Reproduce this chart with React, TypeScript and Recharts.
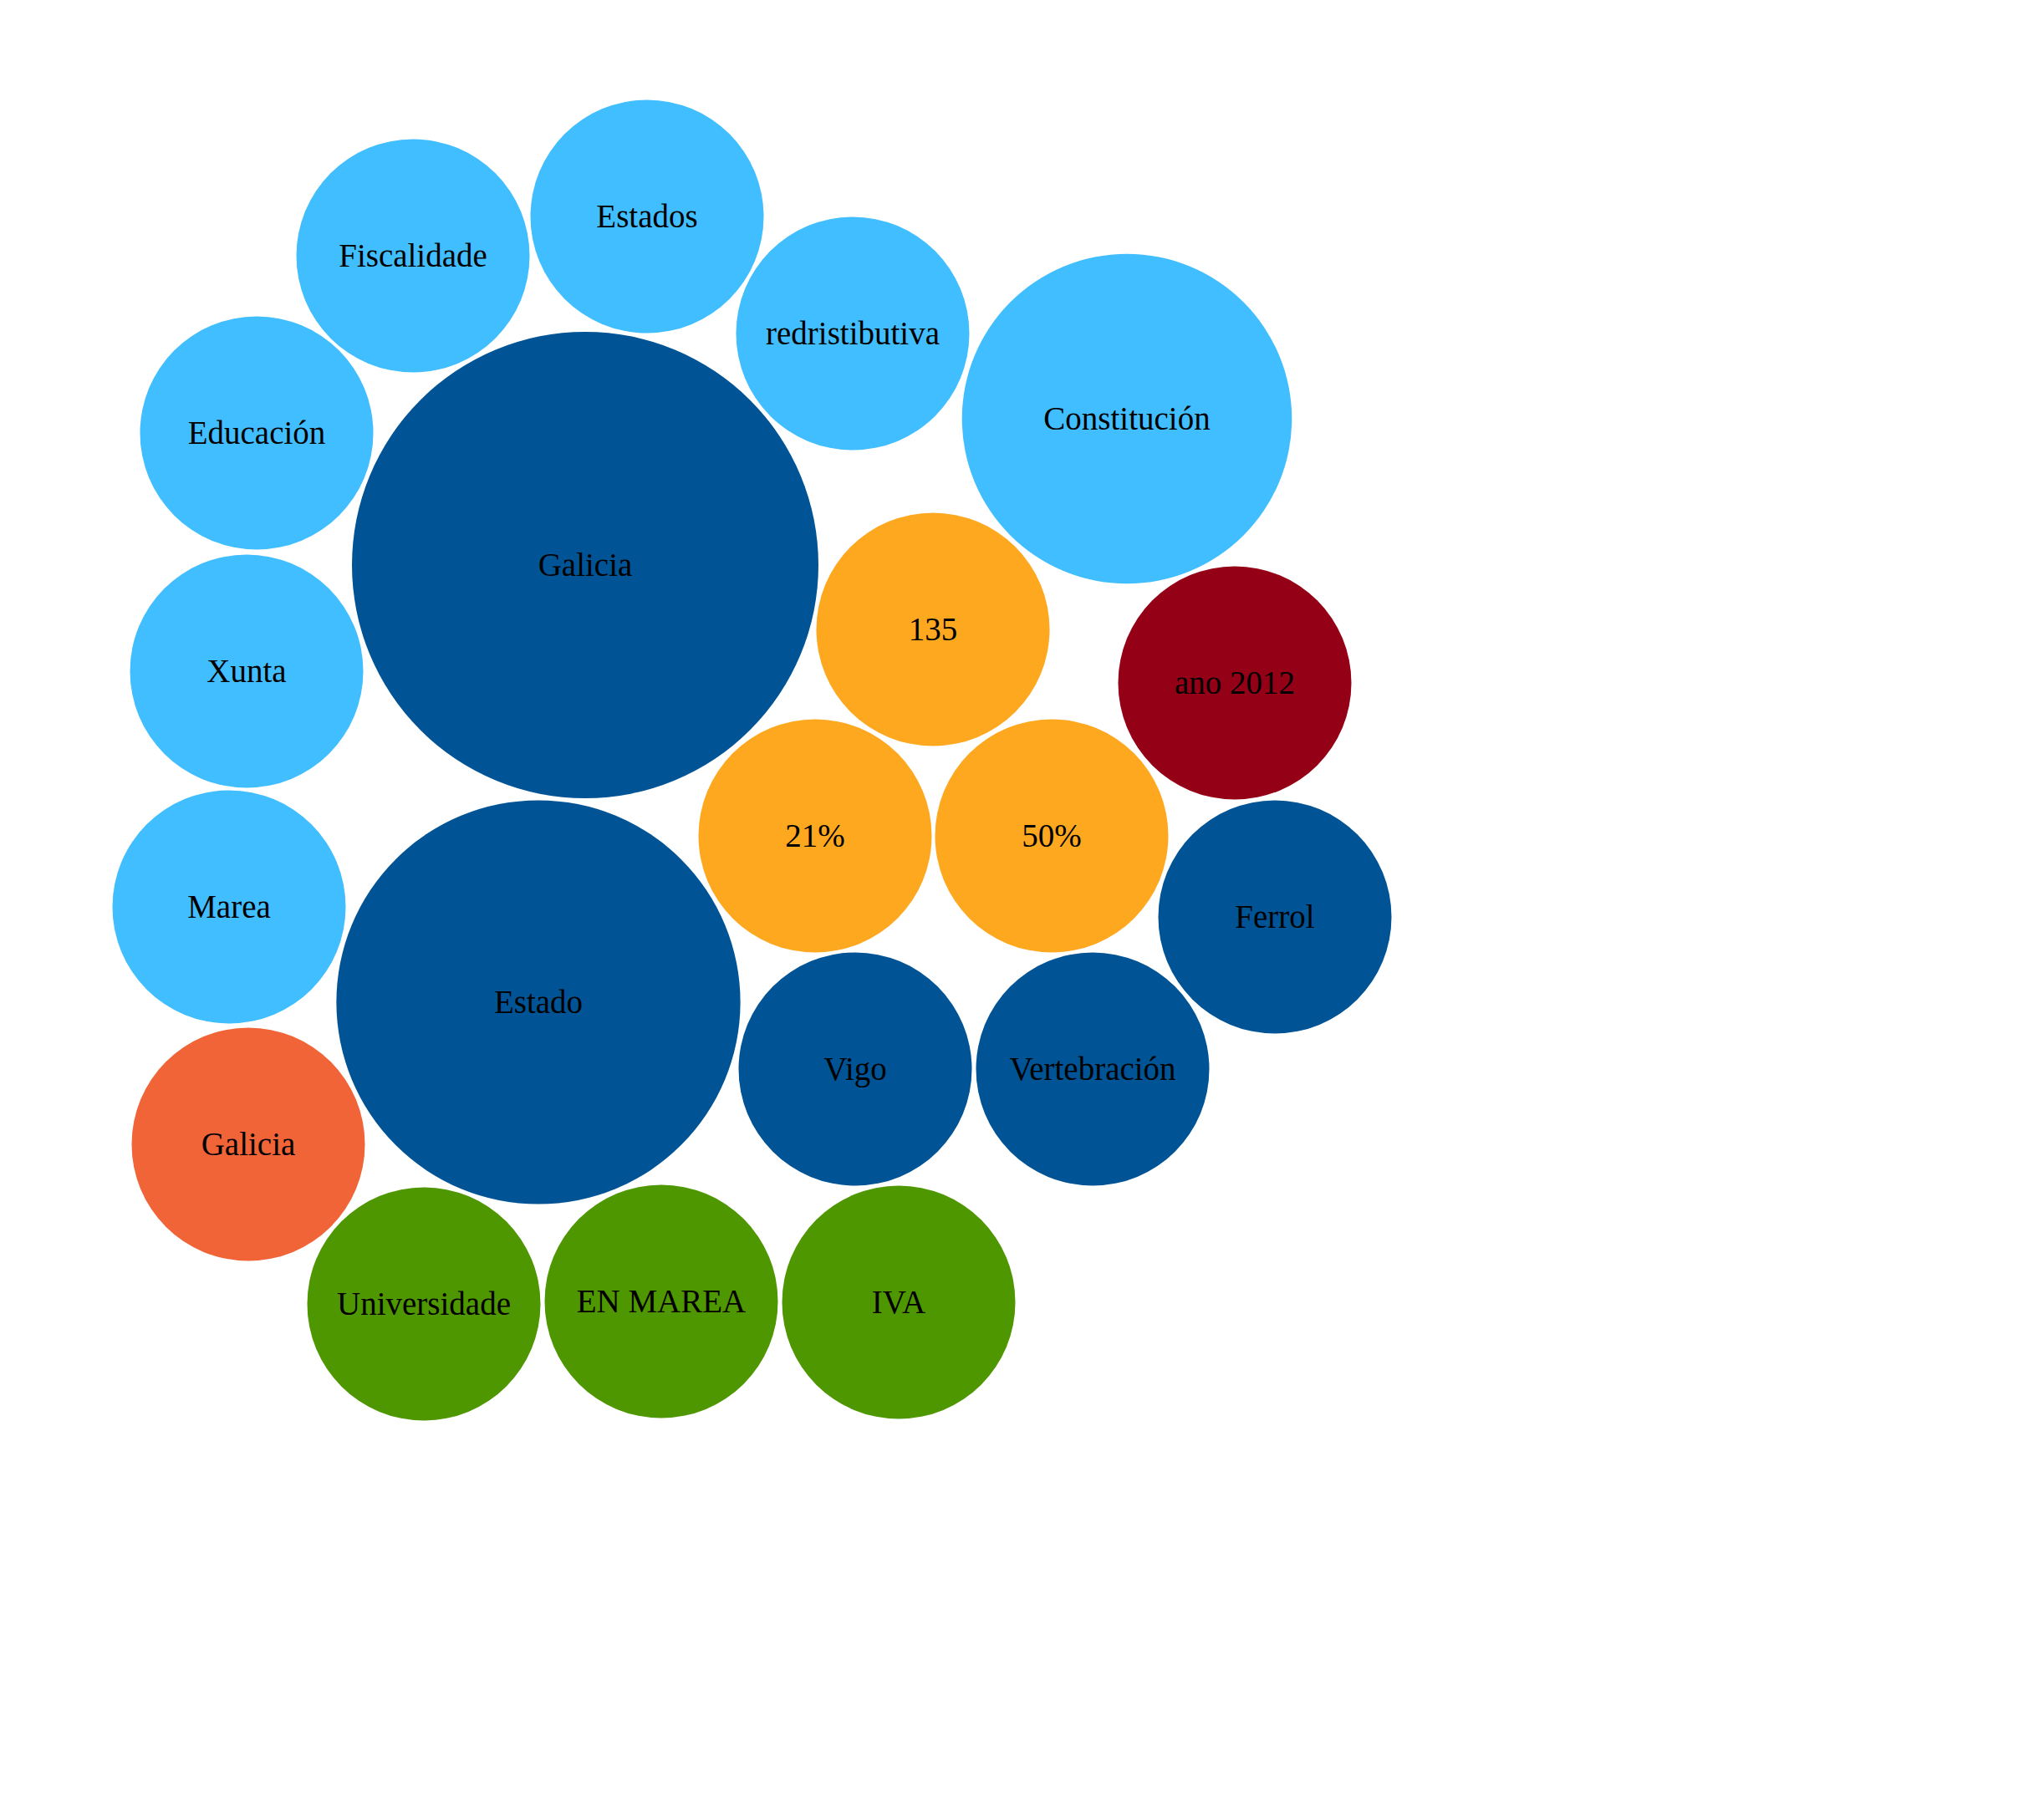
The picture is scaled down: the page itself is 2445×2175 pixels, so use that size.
import React from "react";
import { ScatterChart, Scatter, XAxis, YAxis, ZAxis, Cell } from "recharts";

// words and their weight (bubble area)
const words = [
  "Estados", "Fiscalidade", "redristibutiva", "Educación", "Constitución",
  "Galicia", "135", "ano 2012", "Xunta", "21%", "50%", "Ferrol", "Marea",
  "Estado", "Vigo", "Vertebración", "Galicia", "Universidade", "EN MAREA", "IVA",
];
const weights = [1, 1, 1, 1, 2, 4, 1, 1, 1, 1, 1, 1, 1, 3, 1, 1, 1, 1, 1, 1];
const groups = [
  "tema", "tema", "tema", "tema", "tema", "lugar", "cifra", "data", "tema", "cifra",
  "cifra", "lugar", "tema", "lugar", "lugar", "lugar", "persoa", "org", "org", "org",
];

// bubble centres as laid out in the original packing
const posX = [774, 494, 1020, 307, 1348, 700, 1116, 1477, 295, 975, 1258, 1525, 274, 644, 1023, 1307, 297, 507, 791, 1075];
const posY = [259, 306, 399, 518, 501, 676, 753, 817, 803, 1000, 1000, 1097, 1085, 1199, 1279, 1279, 1369, 1560, 1557, 1558];

const groupColors: Record<string, string> = {
  tema: "#40BEFF",
  lugar: "#005496",
  cifra: "#FEA820",
  data: "#940016",
  persoa: "#F06438",
  org: "#4E9700",
};

const data = words.map((w, i) => ({
  name: w,
  x: posX[i],
  y: posY[i],
  value: weights[i],
  group: groups[i],
}));

const W = 2445;
const H = 2175;
const maxR = 279;

const Bubble = (props: any) => {
  const { cx, cy, fill, payload } = props;
  const r = props.width ? props.width / 2 : Math.sqrt((props.size || 0) / Math.PI);
  return (
    <g>
      <circle cx={cx} cy={cy} r={r} fill={fill} />
      <text
        x={cx}
        y={cy}
        dy="0.33em"
        textAnchor="middle"
        fontFamily="'Liberation Serif', 'Times New Roman', serif"
        fontSize={39}
        fill="#000"
      >
        {payload.name}
      </text>
    </g>
  );
};

export default function App() {
  return (
    <div style={{ background: "#fff" }}>
      <style>{"body{margin:0}"}</style>
      <ScatterChart width={W} height={H} margin={{ top: 0, right: 0, bottom: 0, left: 0 }}>
        <XAxis type="number" dataKey="x" domain={[0, W]} hide />
        <YAxis type="number" dataKey="y" domain={[0, H]} reversed hide />
        <ZAxis type="number" dataKey="value" domain={[0, 4]} range={[0, Math.PI * maxR * maxR]} />
        <Scatter data={data} shape={Bubble} isAnimationActive={false}>
          {data.map((d, i) => (
            <Cell key={i} fill={groupColors[d.group]} />
          ))}
        </Scatter>
      </ScatterChart>
    </div>
  );
}
